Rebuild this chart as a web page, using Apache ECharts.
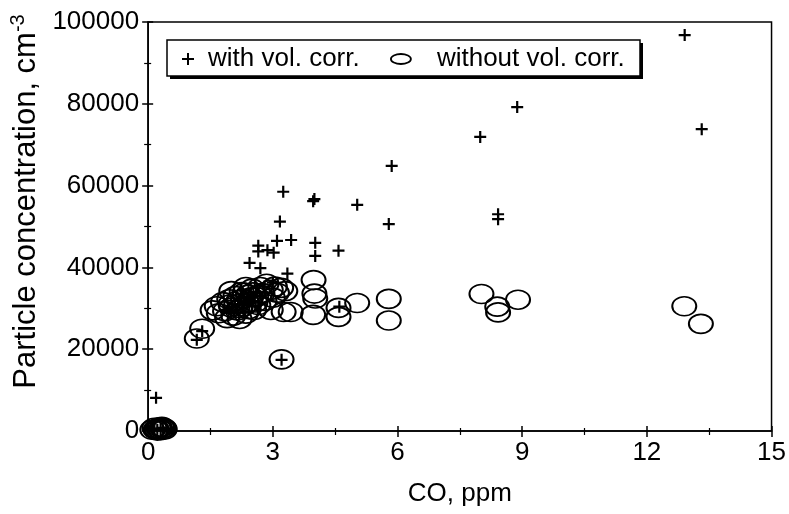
<!DOCTYPE html>
<html>
<head>
<meta charset="utf-8">
<script src="https://cdn.jsdelivr.net/npm/echarts@6/dist/echarts.min.js"></script>
<style>html,body{margin:0;padding:0;background:#fff;}#c{width:789px;height:514px;}</style>
</head>
<body>
<div id="c"></div>
<script>
// ---- data ----
const xTicks = [0, 3, 6, 9, 12, 15];
const yTicks = [0, 20000, 40000, 60000, 80000, 100000];
const seriesNames = ['with vol. corr.', 'without vol. corr.'];

// "+" : with volume correction  [CO ppm, particles cm-3]
const withCorr = [
  [12.91, 96800], [8.88, 79200], [7.99, 71900], [13.32, 73800], [5.86, 64800],
  [3.25, 58500], [3.97, 56200], [4.00, 56700], [5.03, 55300], [8.42, 53000],
  [8.42, 51800], [3.17, 51200], [5.79, 50600], [3.10, 46500], [3.44, 46700],
  [4.02, 46000], [2.65, 45300], [2.87, 44200], [3.02, 43600], [2.65, 43900],
  [4.58, 44100], [4.02, 42800], [2.44, 41100], [2.70, 39800], [3.35, 38500],
  [1.30, 24400], [1.17, 22300], [3.21, 17400], [0.19, 8100], [4.60, 30400],
  [2.00, 29000], [2.20, 31000], [2.40, 32500], [2.60, 34000], [2.80, 35300],
  [3.00, 36300], [2.30, 29000], [2.50, 30500], [0.30, 500], [0.22, 300],
  [0.35, 800], [0.15, 600]
];

// "O" : without volume correction
const withoutCorr = [
  [1.17, 22600], [1.30, 25000],
  [1.55, 29500], [1.65, 30500], [1.70, 28800], [1.80, 31500], [1.85, 29300],
  [1.90, 27600], [1.95, 32200], [2.00, 30200], [2.05, 28200], [2.10, 33000],
  [2.12, 31000], [2.15, 29500], [2.20, 27400], [2.25, 34000], [2.28, 32300],
  [2.30, 30500], [2.35, 28700], [2.40, 33300], [2.45, 31500], [2.50, 34800],
  [2.55, 29600], [2.60, 32800], [2.65, 30800], [2.70, 35200], [2.75, 33700],
  [2.80, 31800], [2.85, 36000], [2.95, 34500], [3.00, 32600], [3.05, 35300],
  [3.10, 33800], [3.20, 35000], [3.30, 34200], [2.35, 35200], [2.00, 34200],
  [2.18, 32000], [2.38, 31200], [2.48, 32700], [2.22, 30000], [2.58, 31400],
  [2.42, 29800], [2.68, 33300], [2.32, 33800], [1.98, 31000], [2.52, 33900],
  [2.95, 29600], [3.26, 29100], [3.43, 29100], [3.21, 17500],
  [3.98, 36900], [4.00, 33600], [4.02, 32400], [3.97, 28400],
  [4.58, 30100], [4.58, 27900], [5.03, 31300], [5.79, 32300], [5.79, 27000],
  [8.02, 33500], [8.40, 30400], [8.42, 29000], [8.90, 32100],
  [12.90, 30500], [13.30, 26200],
  [0.10, 300], [0.20, 500], [0.25, 700], [0.30, 200], [0.35, 600],
  [0.40, 400], [0.15, 800], [0.28, 900], [0.22, 100], [0.33, 1000],
  [0.18, 300], [0.38, 700]
];

const CROSS = 'path://M5,0L5,10M0,5L10,5';
const ELLIPSE = 'path://M0,5A10,5 0 1,1 20,5A10,5 0 1,1 0,5Z';
const FONT = 'Liberation Sans';

const chart = echarts.init(document.getElementById('c'), null, {renderer: 'canvas'});

function baseX(inside) {
  return {
    type: 'value', min: xTicks[0], max: xTicks[xTicks.length - 1],
    interval: xTicks[1] - xTicks[0], gridIndex: 0, position: 'bottom',
    axisLine: {show: !inside, lineStyle: {color: '#000', width: 1.5}},
    axisTick: {show: true, inside: inside, length: inside ? 5 : 6, lineStyle: {color: '#000', width: 1.5}},
    minorTick: {show: true, splitNumber: 2, length: inside ? 3 : 4, lineStyle: {color: '#000', width: 1.2}},
    splitLine: {show: false},
    axisLabel: {show: !inside, fontSize: 26, color: '#000', fontFamily: FONT, margin: 9,
      formatter: v => String(v)}
  };
}
function baseY(inside) {
  return {
    type: 'value', min: yTicks[0], max: yTicks[yTicks.length - 1],
    interval: yTicks[1] - yTicks[0], gridIndex: 0, position: 'left',
    axisLine: {show: !inside, lineStyle: {color: '#000', width: 1.5}},
    axisTick: {show: true, inside: inside, length: inside ? 5 : 6, lineStyle: {color: '#000', width: 1.5}},
    minorTick: {show: true, splitNumber: 2, length: inside ? 3 : 4, lineStyle: {color: '#000', width: 1.2}},
    splitLine: {show: false},
    axisLabel: {show: !inside, fontSize: 26, color: '#000', fontFamily: FONT, margin: 9,
      formatter: v => String(v)}
  };
}

const xMain = Object.assign(baseX(false), {
  name: 'CO, ppm', nameLocation: 'middle', nameGap: 50,
  nameTextStyle: {fontSize: 26, color: '#000', fontFamily: FONT}
});
const yMain = Object.assign(baseY(false), {
  name: '{a|Particle concentration, cm}{s|-3}', nameLocation: 'middle', nameGap: 104, nameRotate: 90,
  nameTextStyle: {
    color: '#000', fontFamily: FONT, padding: [0, 0, 0, 50],
    rich: {
      a: {fontSize: 31, lineHeight: 36, color: '#000', fontFamily: FONT},
      s: {fontSize: 20, lineHeight: 18, verticalAlign: 'top', color: '#000', fontFamily: FONT}
    }
  }
});

chart.setOption({
  animation: false,
  backgroundColor: '#fff',
  textStyle: {fontFamily: FONT},
  grid: {left: 147, right: 17, top: 22, bottom: 83, show: true, borderColor: '#000', borderWidth: 1.5, backgroundColor: 'transparent'},
  xAxis: [xMain, baseX(true)],
  yAxis: [yMain, baseY(true)],
  graphic: [{
    type: 'rect', z: 5, silent: true,
    shape: {x: 170, y: 43, width: 473, height: 36},
    style: {fill: '#000', stroke: null}
  }, {
    type: 'rect', z: 6, silent: true,
    shape: {x: 167, y: 40, width: 473, height: 36},
    style: {fill: '#fff', stroke: '#000', lineWidth: 1.5}
  }],
  legend: [{
    z: 10, data: [seriesNames[0]], left: 181, top: 44, padding: 0,
    icon: CROSS, itemWidth: 12, itemHeight: 12, selectedMode: false,
    itemStyle: {color: 'rgba(0,0,0,0)', borderColor: '#000', borderWidth: 2},
    textStyle: {fontSize: 26, color: '#000', fontFamily: FONT, lineHeight: 30, padding: [0, 0, 0, 9]}
  }, {
    z: 10, data: [seriesNames[1]], left: 390, top: 44, padding: 0,
    icon: ELLIPSE, itemWidth: 20, itemHeight: 15, selectedMode: false,
    itemStyle: {color: 'rgba(0,0,0,0)', borderColor: '#000', borderWidth: 1.8},
    textStyle: {fontSize: 26, color: '#000', fontFamily: FONT, lineHeight: 30, padding: [0, 0, 0, 21]}
  }],
  series: [{
    name: seriesNames[0], type: 'scatter', xAxisIndex: 0, yAxisIndex: 0,
    symbol: CROSS, symbolSize: 12, z: 3,
    itemStyle: {color: 'rgba(0,0,0,0)', borderColor: '#000', borderWidth: 2.2, opacity: 1},
    emphasis: {disabled: true},
    data: withCorr
  }, {
    name: seriesNames[1], type: 'scatter', xAxisIndex: 0, yAxisIndex: 0,
    symbol: ELLIPSE, symbolSize: [24, 19], z: 2,
    itemStyle: {color: 'rgba(0,0,0,0)', borderColor: '#000', borderWidth: 1.8, opacity: 1},
    emphasis: {disabled: true},
    data: withoutCorr
  }]
});
</script>
</body>
</html>
